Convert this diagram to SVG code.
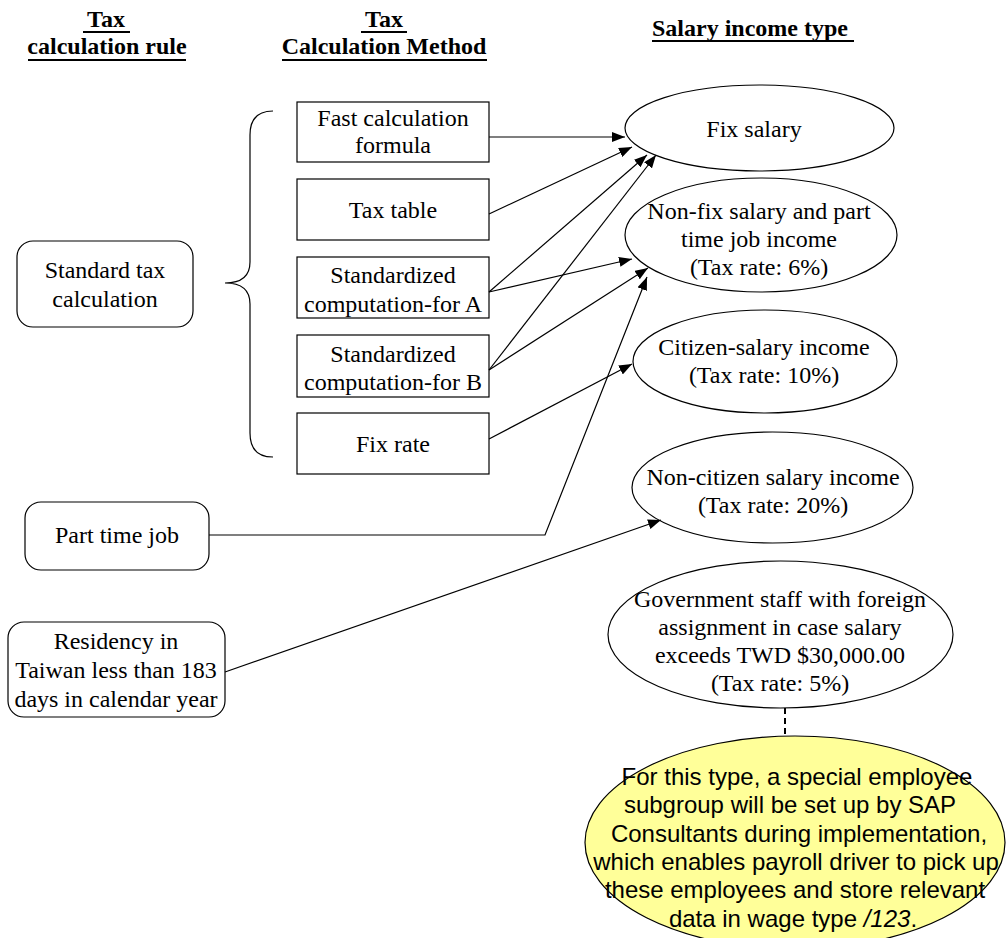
<svg xmlns="http://www.w3.org/2000/svg" width="1008" height="938" viewBox="0 0 1008 938">
<style>
.hd{font-family:"Liberation Serif",serif;font-size:24px;font-weight:bold;fill:#000}
.t{font-family:"Liberation Serif",serif;font-size:24px;fill:#000}
.s{font-family:"Liberation Sans",Arial,sans-serif;font-size:24px;fill:#000}
.ul{stroke:#000;stroke-width:2}
.box{fill:#fff;stroke:#000;stroke-width:1.2}
.ell{fill:#fff;stroke:#000;stroke-width:1.2}
.note{fill:#ffff99;stroke:#000;stroke-width:1.2}
.c{fill:none;stroke:#000;stroke-width:1.2}
</style>
<defs>
<marker id="ah" markerUnits="userSpaceOnUse" markerWidth="14" markerHeight="10" refX="13" refY="5" orient="auto">
<path d="M0,0 L13,5 L0,10 z" fill="#000"/>
</marker>
</defs>
<rect width="1008" height="938" fill="#fff"/>

<g id="headers">
<text class="hd" x="106" y="27" text-anchor="middle">Tax</text>
<text class="hd" x="107" y="54" text-anchor="middle">calculation rule</text>
<line class="ul" x1="83" y1="32" x2="130" y2="32"/>
<line class="ul" x1="28" y1="60" x2="186" y2="60"/>
<text class="hd" x="384" y="27" text-anchor="middle">Tax</text>
<text class="hd" x="384" y="54" text-anchor="middle">Calculation Method</text>
<line class="ul" x1="361" y1="32" x2="407" y2="32"/>
<line class="ul" x1="282" y1="60" x2="487" y2="60"/>
<text class="hd" x="652" y="36">Salary income type</text>
<line class="ul" x1="652" y1="41" x2="854" y2="41"/>
</g>

<g id="brace">
<path class="c" d="M273,111 Q250,111 250,135 L250,262 Q250,283 225,283 Q250,283 250,304 L250,433 Q250,457 273,457"/>
</g>

<g id="standard">
<rect class="box" x="17" y="241" width="176" height="86" rx="16"/>
<text class="t" x="105" y="278" text-anchor="middle">Standard tax</text>
<text class="t" x="105" y="307" text-anchor="middle">calculation</text>
</g>
<g id="parttime">
<rect class="box" x="25" y="502" width="184" height="68" rx="16"/>
<text class="t" x="117" y="543" text-anchor="middle">Part time job</text>
</g>
<g id="residency">
<rect class="box" x="8" y="622" width="217" height="95" rx="16"/>
<text class="t" x="116" y="649" text-anchor="middle">Residency in</text>
<text class="t" x="116" y="678" text-anchor="middle">Taiwan less than 183</text>
<text class="t" x="116" y="707" text-anchor="middle">days in calendar year</text>
</g>

<g id="fast">
<rect class="box" x="297" y="102" width="192" height="60"/>
<text class="t" x="393" y="126" text-anchor="middle">Fast calculation</text>
<text class="t" x="393" y="153" text-anchor="middle">formula</text>
</g>
<g id="taxtable">
<rect class="box" x="297" y="179" width="192" height="61"/>
<text class="t" x="393" y="218" text-anchor="middle">Tax table</text>
</g>
<g id="stdA">
<rect class="box" x="297" y="257" width="192" height="61"/>
<text class="t" x="393" y="283" text-anchor="middle">Standardized</text>
<text class="t" x="393" y="312" text-anchor="middle">computation-for A</text>
</g>
<g id="stdB">
<rect class="box" x="297" y="335" width="192" height="62"/>
<text class="t" x="393" y="362" text-anchor="middle">Standardized</text>
<text class="t" x="393" y="390" text-anchor="middle">computation-for B</text>
</g>
<g id="fixrate">
<rect class="box" x="297" y="413" width="192" height="61"/>
<text class="t" x="393" y="452" text-anchor="middle">Fix rate</text>
</g>

<g id="fixsalary">
<ellipse class="ell" cx="759.5" cy="128" rx="134.5" ry="43"/>
<text class="t" x="754" y="137" text-anchor="middle">Fix salary</text>
</g>
<g id="nonfix">
<ellipse class="ell" cx="761" cy="235" rx="136" ry="57"/>
<text class="t" x="759" y="219" text-anchor="middle">Non-fix salary and part</text>
<text class="t" x="759" y="247" text-anchor="middle">time job income</text>
<text class="t" x="759" y="275" text-anchor="middle">(Tax rate: 6%)</text>
</g>
<g id="citizen">
<ellipse class="ell" cx="765" cy="361.5" rx="132" ry="51.5"/>
<text class="t" x="764" y="355" text-anchor="middle">Citizen-salary income</text>
<text class="t" x="764" y="383" text-anchor="middle">(Tax rate: 10%)</text>
</g>
<g id="noncitizen">
<ellipse class="ell" cx="772.5" cy="487.5" rx="140.5" ry="55.5"/>
<text class="t" x="773" y="485" text-anchor="middle">Non-citizen salary income</text>
<text class="t" x="773" y="513" text-anchor="middle">(Tax rate: 20%)</text>
</g>
<g id="government">
<ellipse class="ell" cx="780.5" cy="634.5" rx="172.5" ry="73.5"/>
<text class="t" x="780" y="607" text-anchor="middle">Government staff with foreign</text>
<text class="t" x="780" y="635" text-anchor="middle">assignment in case salary</text>
<text class="t" x="780" y="663" text-anchor="middle">exceeds TWD $30,000.00</text>
<text class="t" x="780" y="691" text-anchor="middle">(Tax rate: 5%)</text>
</g>
<g id="note">
<ellipse class="note" cx="795" cy="842.5" rx="210" ry="106.5"/>
<text class="s" x="797" y="785" text-anchor="middle">For this type, a special employee</text>
<text class="s" x="790" y="813" text-anchor="middle">subgroup will be set up by SAP </text>
<text class="s" x="799" y="842" text-anchor="middle">Consultants during implementation,</text>
<text class="s" x="796" y="870" text-anchor="middle">which enables payroll driver to pick up</text>
<text class="s" x="795" y="898" text-anchor="middle">these employees and store relevant</text>
<text class="s" x="793" y="927" text-anchor="middle">data in wage type <tspan font-style="italic">/123</tspan>.</text>
</g>

<g id="connectors">
<line class="c" x1="489" y1="137" x2="625" y2="137" marker-end="url(#ah)"/>
<line class="c" x1="489" y1="214" x2="632" y2="147" marker-end="url(#ah)"/>
<line class="c" x1="489" y1="292" x2="647" y2="155" marker-end="url(#ah)"/>
<line class="c" x1="489" y1="292" x2="632" y2="259" marker-end="url(#ah)"/>
<line class="c" x1="489" y1="370" x2="656" y2="155" marker-end="url(#ah)"/>
<line class="c" x1="489" y1="370" x2="648" y2="268" marker-end="url(#ah)"/>
<line class="c" x1="489" y1="439" x2="632" y2="364" marker-end="url(#ah)"/>
<polyline class="c" points="209,535 545,535 647,277" marker-end="url(#ah)"/>
<line class="c" x1="225" y1="672" x2="661" y2="520" marker-end="url(#ah)"/>
<line x1="785" y1="708" x2="785" y2="736" stroke="#000" stroke-width="2" stroke-dasharray="6,4"/>
</g>
</svg>
